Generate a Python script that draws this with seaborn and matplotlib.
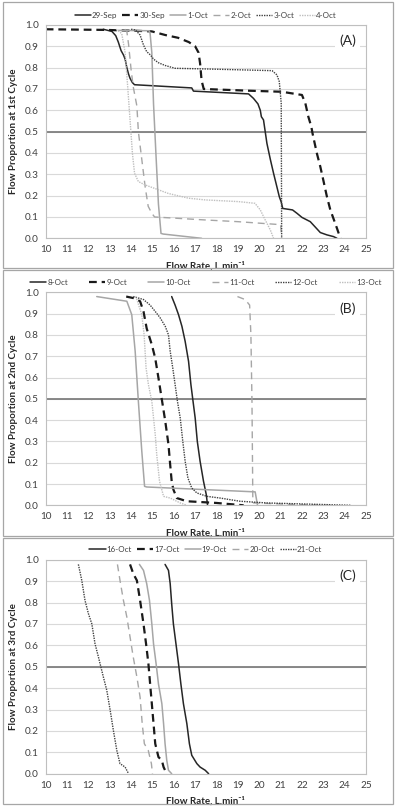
import numpy as np
import pandas as pd
import matplotlib
matplotlib.use("Agg")
import matplotlib.pyplot as plt
import matplotlib.ticker as mticker
import matplotlib.patches as mpatches
import seaborn as sns

# ── Data ─────────────────────────────────────────────────────────────────────
# Panel A – 1st cycle
A_29SEP_X = [12.7, 13.1, 13.28, 13.4, 13.53, 13.64, 13.72, 13.8, 13.88, 13.95, 14.06, 14.16,
             16.84, 16.92, 19.5, 19.73, 19.94, 20.05, 20.1, 20.2, 20.28, 20.36, 20.52, 20.67,
             20.83, 20.94, 21.03, 21.1, 21.56, 21.77, 22.0, 22.39, 22.63, 22.86, 23.17, 23.48, 23.64]
A_29SEP_Y = [0.98, 0.97, 0.95, 0.92, 0.88, 0.86, 0.84, 0.80, 0.77, 0.75, 0.73, 0.72,
             0.705, 0.69, 0.677, 0.656, 0.63, 0.60, 0.57, 0.555, 0.50, 0.445, 0.37, 0.305,
             0.24, 0.195, 0.17, 0.14, 0.133, 0.117, 0.098, 0.078, 0.052, 0.027, 0.016, 0.008, 0.0]
A_30SEP_X = [10.0, 12.78, 14.2, 14.97, 15.6, 16.2, 16.7, 17.0, 17.16, 17.23, 17.3, 17.4,
             19.5, 21.06, 22.0, 22.16, 22.3, 22.44, 22.5, 22.7, 22.86, 23.0, 23.17, 23.33,
             23.5, 23.64, 23.8]
A_30SEP_Y = [0.98, 0.977, 0.973, 0.97, 0.953, 0.94, 0.92, 0.90, 0.87, 0.82, 0.74, 0.70,
             0.692, 0.687, 0.672, 0.633, 0.57, 0.523, 0.49, 0.398, 0.336, 0.273, 0.195, 0.133,
             0.086, 0.047, 0.0]
A_1OCT_X = [13.4, 14.85, 14.89, 14.97, 15.05, 15.16, 15.28, 15.4, 15.5, 17.3]
A_1OCT_Y = [0.975, 0.973, 0.96, 0.87, 0.63, 0.40, 0.16, 0.023, 0.02, 0.0]
A_2OCT_X = [13.7, 13.8, 13.88, 14.0, 14.1, 14.27, 14.34, 14.5, 14.66, 14.8, 14.97, 15.1,
            17.47, 19.0, 21.0, 21.05]
A_2OCT_Y = [0.98, 0.97, 0.91, 0.79, 0.71, 0.62, 0.50, 0.37, 0.24, 0.15, 0.117, 0.10,
            0.086, 0.078, 0.064, 0.0]
A_3OCT_X = [14.0, 14.2, 14.42, 14.58, 14.73, 14.9, 15.05, 15.28, 15.6, 16.06, 17.47, 20.6,
            20.83, 20.94, 21.03, 21.05]
A_3OCT_Y = [0.98, 0.977, 0.953, 0.906, 0.875, 0.86, 0.84, 0.823, 0.81, 0.797, 0.794, 0.786,
            0.766, 0.734, 0.633, 0.0]
A_4OCT_X = [13.3, 13.56, 13.72, 13.84, 13.95, 14.06, 14.16, 14.34, 14.66, 15.1, 15.75, 16.69,
            17.47, 19.03, 19.8, 20.05, 20.28, 20.52, 20.67]
A_4OCT_Y = [0.98, 0.96, 0.87, 0.71, 0.555, 0.40, 0.305, 0.266, 0.25, 0.234, 0.21, 0.188,
            0.18, 0.172, 0.164, 0.133, 0.086, 0.039, 0.0]

# Panel B – 2nd cycle
B_8OCT_X = [15.9, 16.06, 16.22, 16.38, 16.53, 16.69, 16.8, 16.89, 17.0, 17.1, 17.23, 17.39, 17.52, 17.58]
B_8OCT_Y = [0.98, 0.94, 0.895, 0.84, 0.77, 0.676, 0.567, 0.496, 0.41, 0.30, 0.207, 0.113, 0.05, 0.0]
B_9OCT_X = [13.77, 14.1, 14.42, 14.58, 14.73, 14.97, 15.13, 15.28, 15.44, 15.6, 15.75, 15.83,
            15.9, 15.98, 16.14, 16.61, 18.0, 19.27]
B_9OCT_Y = [0.98, 0.973, 0.958, 0.91, 0.83, 0.754, 0.69, 0.598, 0.496, 0.394, 0.285, 0.19,
            0.113, 0.074, 0.034, 0.019, 0.011, 0.0]
B_10OCT_X = [12.39, 13.8, 14.03, 14.19, 14.34, 14.5, 14.63, 14.73, 19.81, 19.92]
B_10OCT_Y = [0.98, 0.958, 0.895, 0.723, 0.488, 0.254, 0.089, 0.086, 0.063, 0.0]
B_11OCT_X = [18.98, 19.34, 19.55, 19.61, 19.66, 19.7, 19.73, 21.9, 23.5]
B_11OCT_Y = [0.98, 0.966, 0.94, 0.80, 0.488, 0.02, 0.011, 0.003, 0.0]
B_12OCT_X = [14.1, 14.58, 14.89, 15.13, 15.36, 15.6, 15.75, 15.83, 15.95, 16.06, 16.17, 16.3,
             16.42, 16.53, 16.66, 16.84, 17.08, 17.55, 18.17, 19.1, 20.36, 24.27]
B_12OCT_Y = [0.98, 0.966, 0.94, 0.91, 0.88, 0.84, 0.80, 0.723, 0.645, 0.567, 0.488, 0.41,
             0.30, 0.207, 0.128, 0.081, 0.058, 0.042, 0.034, 0.019, 0.011, 0.0]
B_13OCT_X = [14.2, 14.27, 14.5, 14.61, 14.7, 14.81, 14.97, 15.13, 15.2, 15.33, 15.52, 15.83, 16.3, 16.61]
B_13OCT_Y = [0.98, 0.966, 0.895, 0.80, 0.645, 0.567, 0.488, 0.332, 0.238, 0.113, 0.042, 0.034, 0.011, 0.0]

# Panel C – 3rd cycle
C_16OCT_X = [15.59, 15.75, 15.83, 15.9, 15.98, 16.1, 16.22, 16.33, 16.45, 16.61, 16.73, 16.84,
             17.08, 17.23, 17.47, 17.63]
C_16OCT_Y = [0.978, 0.95, 0.888, 0.794, 0.70, 0.607, 0.514, 0.42, 0.327, 0.234, 0.14, 0.086,
             0.047, 0.031, 0.016, 0.0]
C_17OCT_X = [13.95, 14.1, 14.27, 14.42, 14.58, 14.7, 14.81, 14.89, 14.97, 15.05, 15.13, 15.28,
             15.44, 15.52, 15.59, 15.67]
C_17OCT_Y = [0.978, 0.935, 0.903, 0.81, 0.70, 0.607, 0.514, 0.42, 0.327, 0.234, 0.14, 0.078,
             0.062, 0.031, 0.016, 0.0]
C_19OCT_X = [14.39, 14.58, 14.73, 14.86, 14.97, 15.05, 15.17, 15.28, 15.36, 15.44, 15.52, 15.59,
             15.67, 15.75, 15.9]
C_19OCT_Y = [0.978, 0.95, 0.888, 0.81, 0.70, 0.607, 0.514, 0.42, 0.374, 0.327, 0.234, 0.14,
             0.062, 0.016, 0.0]
C_20OCT_X = [13.36, 13.48, 13.64, 13.8, 13.95, 14.1, 14.27, 14.42, 14.52, 14.62, 14.8, 14.95, 15.0]
C_20OCT_Y = [0.978, 0.903, 0.81, 0.732, 0.639, 0.545, 0.452, 0.358, 0.234, 0.14, 0.11, 0.047, 0.0]
C_21OCT_X = [11.53, 11.69, 11.84, 12.0, 12.16, 12.31, 12.47, 12.7, 12.86, 13.02, 13.17, 13.33,
             13.48, 13.72, 13.88]
C_21OCT_Y = [0.978, 0.903, 0.81, 0.748, 0.70, 0.607, 0.545, 0.452, 0.39, 0.296, 0.202, 0.109,
             0.047, 0.031, 0.0]

# ── Style ─────────────────────────────────────────────────────────────────────
BLACK_SOLID  = dict(color="#262626", linestyle="-", linewidth=1.1)
BLACK_DASH   = dict(color="#1a1a1a", linestyle=(0, (3.5, 2.2)), linewidth=1.6)
GRAY_SOLID   = dict(color="#a6a6a6", linestyle="-", linewidth=1.1)
GRAY_DASH    = dict(color="#a6a6a6", linestyle=(0, (5, 3.5)), linewidth=1.0)
BLACK_DOT    = dict(color="#404040", linestyle=(0, (1, 0.8)), linewidth=1.0)
LIGHT_DOT    = dict(color="#bfbfbf", linestyle=(0, (1, 0.8)), linewidth=1.0)

sns.set_style("white")
plt.rcParams["font.family"] = ["Lato", "DejaVu Sans"]

PANELS = [
    ("(A)", "Flow Proportion at 1st Cycle", [
        ("29-Sep", A_29SEP_X, A_29SEP_Y, BLACK_SOLID),
        ("30-Sep", A_30SEP_X, A_30SEP_Y, BLACK_DASH),
        ("1-Oct", A_1OCT_X, A_1OCT_Y, GRAY_SOLID),
        ("2-Oct", A_2OCT_X, A_2OCT_Y, GRAY_DASH),
        ("3-Oct", A_3OCT_X, A_3OCT_Y, BLACK_DOT),
        ("4-Oct", A_4OCT_X, A_4OCT_Y, LIGHT_DOT),
    ], 0.6),
    ("(B)", "Flow Proportion at 2nd Cycle", [
        ("8-Oct", B_8OCT_X, B_8OCT_Y, BLACK_SOLID),
        ("9-Oct", B_9OCT_X, B_9OCT_Y, BLACK_DASH),
        ("10-Oct", B_10OCT_X, B_10OCT_Y, GRAY_SOLID),
        ("11-Oct", B_11OCT_X, B_11OCT_Y, GRAY_DASH),
        ("12-Oct", B_12OCT_X, B_12OCT_Y, BLACK_DOT),
        ("13-Oct", B_13OCT_X, B_13OCT_Y, LIGHT_DOT),
    ], 2.6),
    ("(C)", "Flow Proportion at 3rd Cycle", [
        ("16-Oct", C_16OCT_X, C_16OCT_Y, BLACK_SOLID),
        ("17-Oct", C_17OCT_X, C_17OCT_Y, BLACK_DASH),
        ("19-Oct", C_19OCT_X, C_19OCT_Y, GRAY_SOLID),
        ("20-Oct", C_20OCT_X, C_20OCT_Y, GRAY_DASH),
        ("21-Oct", C_21OCT_X, C_21OCT_Y, BLACK_DOT),
    ], 0.6),
]

W, H = 396, 807
fig = plt.figure(figsize=(W / 100, H / 100), dpi=100)

# axes boxes in pixels: (top, bottom) ; frame boxes (top, bottom)
AX_Y = [(25.0, 238.3), (292.3, 505.3), (559.7, 773.7)]
FRAME_Y = [(2, 268), (270, 536), (538, 804)]
AX_L, AX_R = 45.7, 366.0

for (tag, ylab, series, colsp), (t, b), (ft, fb) in zip(PANELS, AX_Y, FRAME_Y):
    # panel frame
    fig.patches.append(mpatches.Rectangle((3 / W, 1 - fb / H), 390 / W, (fb - ft) / H,
                                          transform=fig.transFigure, fill=False,
                                          edgecolor="#a6a6a6", linewidth=0.9))
    ax = fig.add_axes([AX_L / W, 1 - b / H, (AX_R - AX_L) / W, (b - t) / H])

    for name, xs, ys, st in series:
        sns.lineplot(x=xs, y=ys, ax=ax, sort=False, estimator=None, label=name,
                     color=st["color"], linewidth=st["linewidth"])
        ax.lines[-1].set_linestyle(st["linestyle"])

    ax.axhline(0.5, color="#7f7f7f", linewidth=1.3, zorder=1)

    ax.set_xlim(10, 25)
    ax.set_ylim(0, 1.0)
    ax.xaxis.set_major_locator(mticker.MultipleLocator(1))
    ax.xaxis.set_minor_locator(mticker.MultipleLocator(0.2))
    ax.yaxis.set_major_locator(mticker.MultipleLocator(0.1))
    ax.yaxis.set_minor_locator(mticker.MultipleLocator(0.02))
    ax.yaxis.set_major_formatter(mticker.FuncFormatter(lambda v, _: f"{v:.1f}"))
    ax.tick_params(which="major", length=0, labelsize=7.2, labelcolor="#404040", pad=5)
    ax.tick_params(which="minor", direction="in", length=2.2, width=0.6, color="#bfbfbf")
    ax.grid(axis="y", which="major", color="#d9d9d9", linewidth=0.8)
    ax.set_axisbelow(True)
    for s in ax.spines.values():
        s.set_color("#bfbfbf")
        s.set_linewidth(0.8)

    ax.set_ylabel(ylab, fontsize=7, fontweight="bold", color="#262626", labelpad=5)
    ax.set_xlabel("Flow Rate, L.min⁻¹", fontsize=7, fontweight="bold", color="#262626",
                  labelpad=5)

    ax.text(24.15, 0.925, tag, ha="center", va="center", fontsize=10, color="#262626",
            bbox=dict(boxstyle="square,pad=0.3", fc="white", ec="none"))

    ax.legend(loc="lower center", bbox_to_anchor=(0.5, 1.0), ncol=len(series), frameon=False,
              fontsize=5.8, handlelength=2.0, handletextpad=0.15, columnspacing=colsp,
              borderaxespad=0.4, labelcolor="#404040")

fig.savefig("out.png", dpi=100)
